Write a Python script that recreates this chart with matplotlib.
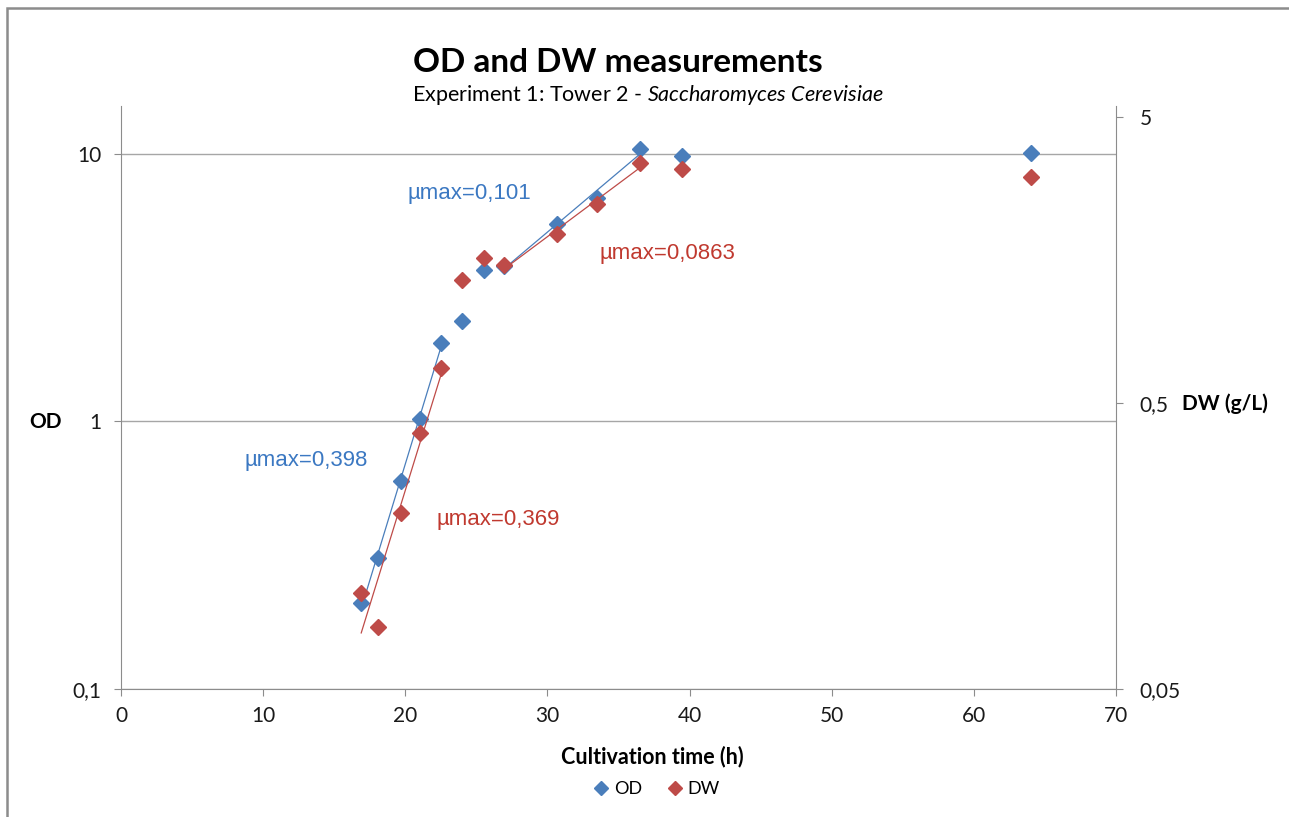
import numpy as np
import matplotlib
matplotlib.use("Agg")
import matplotlib.pyplot as plt
from matplotlib.lines import Line2D
from matplotlib.patches import Rectangle
from matplotlib.ticker import FixedLocator, NullLocator

plt.rcParams['font.family'] = ['Lato', 'DejaVu Sans']
plt.rcParams['mathtext.fontset'] = 'custom'
plt.rcParams['mathtext.rm'] = 'Lato'
plt.rcParams['mathtext.it'] = 'Lato:italic'

# ---------------- data ----------------
time_h = [16.9, 18.08, 19.7, 21.04, 22.5, 23.99, 25.54, 26.95, 30.67, 33.5, 36.5, 39.5, 64.0]
od = [0.21, 0.309, 0.599, 1.024, 1.966, 2.375, 3.68, 3.8, 5.47, 6.85, 10.44, 9.83, 10.09]
dw = [0.1084, 0.0824, 0.206, 0.393, 0.663, 1.346, 1.607, 1.519, 1.949, 2.48, 3.45, 3.29, 3.08]

# index ranges used for exponential trend lines (first phase, second phase)
od_fit_ranges = [(0, 5), (7, 11)]
dw_fit_ranges = [(0, 5), (7, 11)]

mu_labels_od = ["µmax=0,398", "µmax=0,101"]
mu_labels_dw = ["µmax=0,369", "µmax=0,0863"]

x_ticks = [0, 10, 20, 30, 40, 50, 60, 70]
od_ticks = [0.1, 1, 10]
od_tick_labels = ["0,1", "1", "10"]
dw_ticks = [0.05, 0.5, 5]
dw_tick_labels = ["0,05", "0,5", "5"]

blue = '#4a7ebb'
red = '#be4b48'
blue_txt = '#3b78c2'
red_txt = '#c0392f'
grid_c = '#a6a6a6'
axis_c = '#8c8c8c'

W, H = 1289, 817
fig = plt.figure(figsize=(W / 100, H / 100), dpi=100)

# outer chart border
fig.patches.append(Rectangle((7 / W, -0.1), 1.2, (H - 8) / H + 0.1, transform=fig.transFigure,
                             fill=False, edgecolor='#8c8c8c', linewidth=1.8))

ax = fig.add_axes([121 / W, (H - 689) / H, (1116 - 121) / W, (689 - 106) / H])
ax2 = ax.twinx()

ax.set_yscale('log')
ax2.set_yscale('log')
ax.set_xlim(0, 70)
ax.set_ylim(0.1, 15.1)
ax2.set_ylim(0.05, 5.46)

for a in (ax, ax2):
    for s in a.spines.values():
        s.set_visible(False)
    a.set_facecolor('none')

ax.spines['left'].set_visible(True)
ax.spines['left'].set_color(axis_c)
ax.spines['bottom'].set_visible(True)
ax.spines['bottom'].set_color(axis_c)
ax2.spines['right'].set_visible(True)
ax2.spines['right'].set_color(axis_c)

ax.xaxis.set_major_locator(FixedLocator(x_ticks))
ax.set_xticklabels([str(t) for t in x_ticks])
ax.yaxis.set_major_locator(FixedLocator(od_ticks))
ax.yaxis.set_minor_locator(NullLocator())
ax.set_yticklabels(od_tick_labels)
ax2.yaxis.set_major_locator(FixedLocator(dw_ticks))
ax2.yaxis.set_minor_locator(NullLocator())
ax2.set_yticklabels(dw_tick_labels)

ax.tick_params(axis='x', direction='out', length=5, color=axis_c, labelsize=15, pad=7, labelcolor='#1a1a1a')
ax.tick_params(axis='y', direction='out', length=5, color=axis_c, labelsize=15, pad=9, labelcolor='#1a1a1a')
ax2.tick_params(axis='y', direction='out', length=5, color=axis_c, labelsize=15, pad=12, labelcolor='#1a1a1a')

ax.grid(True, axis='y', which='major', color=grid_c, linewidth=1.0)
ax.set_axisbelow(True)

# markers
ax.plot(time_h, od, linestyle='none', marker='D', markersize=8, color=blue, zorder=3)
ax2.plot(time_h, dw, linestyle='none', marker='D', markersize=8, color=red, zorder=3)

# exponential trend lines
t = np.array(time_h)
for (i0, i1) in od_fit_ranges:
    xs = t[i0:i1]
    k, b = np.polyfit(xs, np.log(np.array(od[i0:i1])), 1)
    xx = np.linspace(xs[0], xs[-1], 50)
    ax.plot(xx, np.exp(b + k * xx), color=blue, linewidth=0.9, zorder=2)
for (i0, i1) in dw_fit_ranges:
    xs = t[i0:i1]
    k, b = np.polyfit(xs, np.log(np.array(dw[i0:i1])), 1)
    xx = np.linspace(xs[0], xs[-1], 50)
    ax2.plot(xx, np.exp(b + k * xx), color=red, linewidth=0.9, zorder=2)

# annotations (placed in figure pixel coordinates)
def ftxt(x, y, s, **kw):
    fig.text(x / W, 1 - y / H, s, **kw)

ann_font = ['Liberation Sans', 'DejaVu Sans']
ftxt(306, 461, mu_labels_od[0], color=blue_txt, fontsize=16, ha='center', va='center', family=ann_font)
ftxt(469, 194, mu_labels_od[1], color=blue_txt, fontsize=16, ha='center', va='center', family=ann_font)
ftxt(498, 520, mu_labels_dw[0], color=red_txt, fontsize=16, ha='center', va='center', family=ann_font)
ftxt(667, 253, mu_labels_dw[1], color=red_txt, fontsize=16, ha='center', va='center', family=ann_font)

# titles
ftxt(618, 62, "OD and DW measurements", fontsize=24, fontweight='bold', ha='center', va='center', color='#000000')
ftxt(648, 95, r"Experiment 1: Tower 2 - $\it{Saccharomyces\ Cerevisiae}$", fontsize=15.5,
     ha='center', va='center', color='#000000')

# axis labels
ftxt(45, 422, "OD", fontsize=15, fontweight='bold', ha='center', va='center')
ftxt(1225, 404, "DW (g/L)", fontsize=15, fontweight='bold', ha='center', va='center')
ftxt(652, 757, "Cultivation time (h)", fontsize=15.5, fontweight='bold', ha='center', va='center')

# legend
handles = [Line2D([], [], linestyle='none', marker='D', markersize=7, color=blue),
           Line2D([], [], linestyle='none', marker='D', markersize=7, color=red)]
fig.legend(handles, ["OD", "DW"], loc='center', bbox_to_anchor=(655 / W, 1 - 789 / H), ncol=2,
           frameon=False, fontsize=13, handletextpad=0.1, columnspacing=1.2, handlelength=1.2)

fig.savefig('out.png', dpi=100, facecolor='white')
